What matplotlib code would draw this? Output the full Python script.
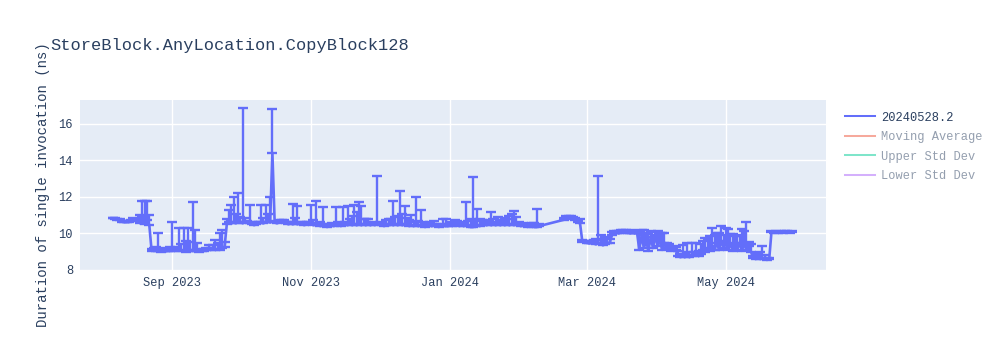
"""Benchmark history chart: StoreBlock.AnyLocation.CopyBlock128."""

import matplotlib.dates as mdates
import matplotlib.pyplot as plt
import numpy as np
import pandas as pd
from matplotlib.lines import Line2D

plt.rcParams["font.family"] = ["Liberation Mono", "DejaVu Sans Mono"]

# one block per month: day of month, mean duration (ns), upper error (ns)
aug_2023_days = list(range(6, 32))
aug_2023_vals = [10.82, 10.80, 10.75, 10.72, 10.65, 10.62, 10.63, 10.62, 10.66, 10.75, 10.72, 10.70,
                 10.55, 10.90, 10.50, 10.75, 10.45,
                 9.05, 9.10, 9.05, 9.05, 9.00, 9.08, 9.02, 9.05, 9.05]
aug_2023_err = [0.05, 0.05, 0.05, 0.05, 0.05, 0.05, 0.05, 0.05, 0.08, 0.10, 0.08, 0.10,
                0.45, 0.90, 1.30, 1.05, 0.55,
                0.10, 0.10, 0.20, 0.95, 0.10, 0.10, 0.15, 0.10, 0.20]

sep_2023_days = list(range(1, 31))
sep_2023_vals = [9.10, 9.05, 9.15, 9.05, 9.10, 9.05, 9.00, 9.10, 9.05, 9.05,
                 9.10, 9.05, 9.00, 9.05, 9.05, 9.10, 9.15, 9.10, 9.15, 9.10,
                 9.15, 9.10, 9.20, 9.25, 10.50, 10.60, 10.55, 10.60, 10.55, 10.60]
sep_2023_err = [1.50, 0.10, 0.10, 1.25, 0.30, 1.25, 0.60, 1.20, 0.50, 2.65,
                1.10, 0.40, 0.10, 0.10, 0.10, 0.10, 0.20, 0.10, 0.20, 0.55,
                0.30, 0.90, 1.00, 0.30, 0.30, 0.70, 1.00, 1.40, 0.50, 1.60]

oct_2023_days = list(range(1, 32))
oct_2023_vals = [10.60, 10.55, 10.65, 10.60, 10.55, 10.50, 10.45, 10.50, 10.55, 10.60,
                 10.55, 10.60, 10.65, 10.60, 14.40, 10.60, 10.55, 10.60, 10.65, 10.60,
                 10.55, 10.50, 10.55, 10.50, 10.55, 10.50, 10.55, 10.50, 10.45, 10.50, 10.55]
oct_2023_err = [0.30, 6.30, 0.20, 0.10, 1.00, 0.10, 0.10, 0.10, 0.10, 0.95,
                0.30, 0.95, 0.40, 1.40, 2.40, 0.10, 0.10, 0.15, 0.10, 0.15,
                0.10, 0.10, 0.10, 1.10, 0.30, 1.00, 0.10, 0.10, 0.10, 0.10, 0.10]

nov_2023_days = list(range(1, 31))
nov_2023_vals = [10.50, 10.45, 10.50, 10.45, 10.40, 10.45, 10.40, 10.35, 10.40, 10.45,
                 10.40, 10.45, 10.45, 10.40, 10.45, 10.50, 10.45, 10.50, 10.45, 10.50,
                 10.45, 10.50, 10.45, 10.50, 10.45, 10.50, 10.45, 10.50, 10.45, 10.50]
nov_2023_err = [1.05, 0.30, 1.25, 0.10, 0.20, 1.00, 0.10, 0.10, 0.10, 0.10,
                0.10, 1.00, 0.15, 0.15, 1.00, 0.15, 1.05, 0.30, 0.50, 1.05,
                0.70, 1.20, 1.05, 0.30, 0.35, 0.30, 0.10, 0.10, 0.10, 2.65]

dec_2023_days = list(range(1, 32))
dec_2023_vals = [10.50, 10.45, 10.40, 10.45, 10.45, 10.50, 10.45, 10.50, 10.45, 10.50,
                 10.45, 10.50, 10.45, 10.40, 10.45, 10.40, 10.45, 10.40, 10.45, 10.40,
                 10.35, 10.40, 10.45, 10.40, 10.45, 10.40, 10.35, 10.40, 10.45, 10.40, 10.40]
dec_2023_err = [0.10, 0.10, 0.10, 0.30, 0.35, 0.30, 1.35, 0.40, 0.50, 1.80,
                0.60, 1.00, 0.40, 0.35, 0.55, 0.20, 1.55, 0.30, 0.85, 0.20,
                0.10, 0.10, 0.15, 0.10, 0.25, 0.10, 0.10, 0.10, 0.35, 0.40, 0.10]

jan_2024_days = list(range(1, 32))
jan_2024_vals = [10.45, 10.40, 10.45, 10.45, 10.40, 10.45, 10.40, 10.45, 10.40, 10.35,
                 10.35, 10.40, 10.45, 10.40, 10.45, 10.50, 10.45, 10.50, 10.45, 10.50,
                 10.45, 10.50, 10.45, 10.50, 10.45, 10.50, 10.45, 10.50, 10.45, 10.50, 10.45]
jan_2024_err = [0.20, 0.10, 0.30, 0.25, 0.15, 0.10, 0.20, 1.25, 0.30, 0.45,
                2.75, 0.30, 0.90, 0.40, 0.30, 0.25, 0.10, 0.20, 0.70, 0.30,
                0.20, 0.40, 0.30, 0.15, 0.40, 0.30, 0.50, 0.55, 0.75, 0.40, 0.20]

feb_2024_days = [1, 2, 3, 4, 5, 6, 7, 8, 9, 20, 21, 22, 23, 24, 25, 26, 27, 28]
feb_2024_vals = [10.40, 10.45, 10.40, 10.35, 10.40, 10.45, 10.35, 10.35, 10.40,
                 10.75, 10.85, 10.85, 10.90, 10.80, 10.75, 10.60, 10.55, 9.55]
feb_2024_err = [0.10, 0.10, 0.10, 0.10, 0.10, 0.10, 0.20, 1.00, 0.10,
                0.10, 0.10, 0.10, 0.05, 0.10, 0.10, 0.15, 0.25, 0.10]

mar_2024_days = list(range(1, 32))
mar_2024_vals = [9.50, 9.45, 9.50, 9.45, 9.40, 9.50, 9.45, 9.35, 9.40, 9.45,
                 9.50, 9.90, 10.00, 10.05, 10.00, 10.10, 10.05, 10.10, 10.05, 10.00,
                 10.05, 10.00, 10.05, 9.10, 9.90, 9.20, 9.60, 9.05, 9.80, 9.20, 9.90]
mar_2024_err = [0.10, 0.15, 0.10, 0.20, 0.30, 3.65, 0.45, 0.30, 0.35, 0.35,
                0.20, 0.20, 0.15, 0.10, 0.15, 0.10, 0.15, 0.10, 0.10, 0.10,
                0.15, 0.10, 0.05, 0.90, 0.30, 1.00, 0.45, 0.90, 0.35, 0.60, 0.20]

apr_2024_days = list(range(1, 31))
apr_2024_vals = [9.30, 9.70, 9.10, 9.50, 9.15, 9.20, 9.05, 9.20, 9.10, 8.75,
                 8.70, 8.75, 8.70, 8.80, 8.70, 8.75, 8.80, 8.90, 8.75, 8.90,
                 9.10, 9.00, 9.20, 9.05, 9.30, 9.10, 9.50, 9.10, 9.60, 9.20]
apr_2024_err = [0.85, 0.35, 0.95, 0.55, 0.30, 0.20, 0.20, 0.10, 0.15, 0.30,
                0.20, 0.60, 0.15, 0.70, 0.30, 0.70, 0.20, 0.60, 0.30, 0.50,
                0.50, 0.75, 0.45, 0.80, 1.00, 0.80, 0.55, 0.90, 0.80, 0.70]

may_2024_days = list(range(1, 31))
may_2024_vals = [9.50, 9.10, 9.45, 9.05, 9.30, 9.10, 9.50, 9.05, 9.45, 9.10,
                 9.30, 9.00, 8.65, 8.60, 8.65, 8.60, 8.65, 8.60, 8.55, 8.60,
                 10.10, 10.05, 10.10, 10.05, 10.10, 10.05, 10.10, 10.10, 10.05, 10.10]
may_2024_err = [0.80, 1.15, 0.50, 0.90, 0.55, 0.75, 0.40, 1.20, 0.70, 1.55,
                0.25, 0.40, 0.10, 0.10, 0.20, 0.40, 0.65, 0.20, 0.10, 0.05,
                0.05, 0.05, 0.05, 0.05, 0.05, 0.05, 0.05, 0.05, 0.05, 0.05]

months = [
    (2023, 8, aug_2023_days, aug_2023_vals, aug_2023_err),
    (2023, 9, sep_2023_days, sep_2023_vals, sep_2023_err),
    (2023, 10, oct_2023_days, oct_2023_vals, oct_2023_err),
    (2023, 11, nov_2023_days, nov_2023_vals, nov_2023_err),
    (2023, 12, dec_2023_days, dec_2023_vals, dec_2023_err),
    (2024, 1, jan_2024_days, jan_2024_vals, jan_2024_err),
    (2024, 2, feb_2024_days, feb_2024_vals, feb_2024_err),
    (2024, 3, mar_2024_days, mar_2024_vals, mar_2024_err),
    (2024, 4, apr_2024_days, apr_2024_vals, apr_2024_err),
    (2024, 5, may_2024_days, may_2024_vals, may_2024_err),
]

series_name = "20240528.2"
legend_names = [series_name, "Moving Average", "Upper Std Dev", "Lower Std Dev"]
legend_colors = ["#636efa", "#EF553B", "#00cc96", "#ab63fa"]
y_ticks = [8, 10, 12, 14, 16]

dates, values, err_up = [], [], []
for year, month, days, vals, errs in months:
    dates += [pd.Timestamp(year, month, d) for d in days]
    values += vals
    err_up += errs
values = np.array(values)
err_up = np.array(err_up)

text_color = "#2a3f5f"
fig = plt.figure(figsize=(10, 3.5), dpi=100)
ax = fig.add_axes([0.08, 0.2286, 0.746, 0.4857])
ax.set_facecolor("#E5ECF6")

ax.errorbar(dates, values, yerr=[np.zeros_like(err_up), err_up], color="#636efa",
            linewidth=1.9, elinewidth=1.7, capsize=3.4, capthick=1.7, zorder=3)

ax.set_ylim(8, 17.3)
ax.set_yticks(y_ticks)
ax.set_xlim(pd.Timestamp("2023-07-22 14:00"), pd.Timestamp("2024-06-13 22:00"))
ax.xaxis.set_major_locator(mdates.MonthLocator(bymonth=[1, 3, 5, 7, 9, 11]))
ax.xaxis.set_major_formatter(mdates.DateFormatter("%b %Y"))
ax.grid(color="white", linewidth=1.0)
ax.set_axisbelow(True)
for spine in ax.spines.values():
    spine.set_visible(False)
ax.tick_params(length=0, pad=5, labelsize=8.64, labelcolor=text_color)

fig.text(0.05, 0.871, "StoreBlock.AnyLocation.CopyBlock128", fontsize=12.24,
         color=text_color, va="center", ha="left")
fig.text(0.043, 0.4714, "Duration of single invocation (ns)", fontsize=10.08,
         color=text_color, rotation=90, va="center", ha="center")

handles = [Line2D([], [], color=c, linewidth=1.45, alpha=1.0 if i == 0 else 0.5)
           for i, c in enumerate(legend_colors)]
leg = fig.legend(handles, legend_names, loc="upper left", bbox_to_anchor=(0.845, 0.681),
                 frameon=False, fontsize=8.64, handlelength=2.5, handletextpad=0.5,
                 labelspacing=0.62, borderaxespad=0, borderpad=0)
for i, txt in enumerate(leg.get_texts()):
    txt.set_color(text_color)
    if i > 0:
        txt.set_alpha(0.5)

fig.savefig("out.png", dpi=100)
plt.close(fig)
